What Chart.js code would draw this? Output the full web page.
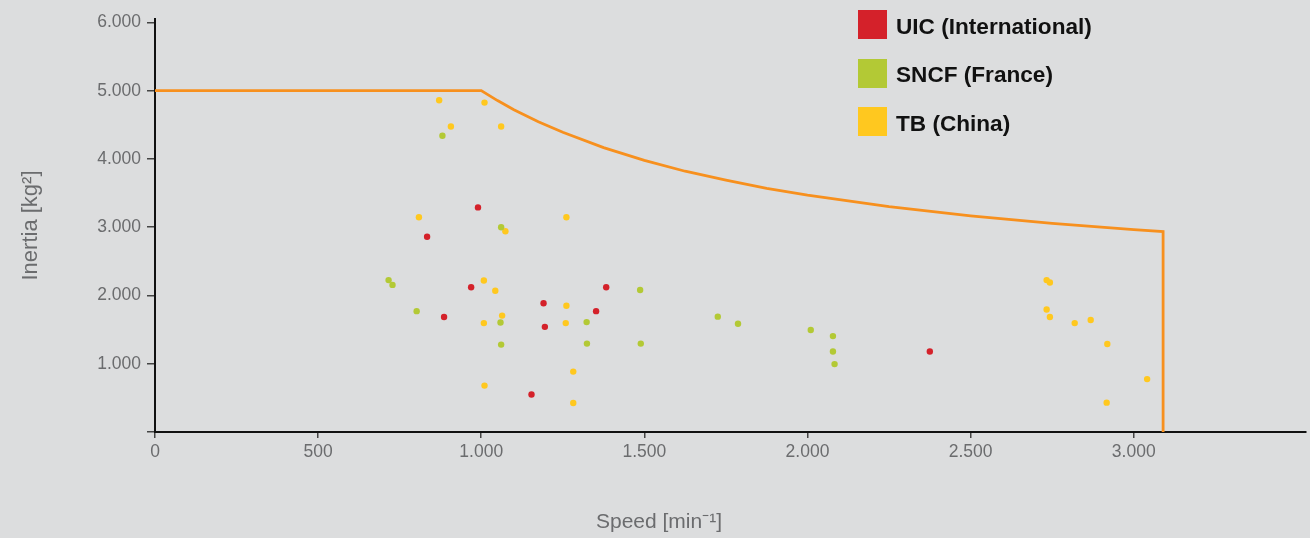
<!DOCTYPE html>
<html>
<head>
<meta charset="utf-8">
<script src="https://cdn.jsdelivr.net/npm/chart.js@4.4.1/dist/chart.umd.min.js"></script>
<style>
  html, body { margin: 0; padding: 0; background: #dcddde; }
  #wrap { position: relative; width: 1310px; height: 538px; }
  #legend {
    position: absolute; left: 858px; top: 10px;
    font-family: "Liberation Sans", Arial, sans-serif;
    font-weight: bold; font-size: 22.6px; color: #111;
  }
  .item { display: flex; align-items: center; height: 29px; margin-bottom: 19.7px; }
  .box { width: 29px; height: 29px; margin-right: 9px; }
  .label { position: relative; top: 2px; }
</style>
</head>
<body>
<div id="wrap">
  <canvas id="chart" width="1310" height="538"></canvas>
  <div id="legend"></div>
</div>
<script>
// Series names and colours
const seriesNames = ["UIC (International)", "SNCF (France)", "TB (China)"];
const seriesColors = ["#d4212a", "#b3c935", "#ffc81f"];

// UIC (International)
const uicSpeed   = [990, 834, 969, 1383, 886, 1191, 1352, 1195, 1154, 2375];
const uicInertia = [3290, 2860, 2120, 2120, 1685, 1885, 1770, 1540, 550, 1180];

// SNCF (France)
const sncfSpeed   = [881, 1061, 716, 728, 1487, 802, 1059, 1323, 1061, 1324, 1489, 1725, 1787, 2010, 2078, 2078, 2083];
const sncfInertia = [4340, 3000, 2225, 2155, 2080, 1770, 1605, 1610, 1280, 1295, 1295, 1690, 1585, 1495, 1405, 1180, 995];

// TB (China)
const tbSpeed   = [871, 1010, 907, 1061, 809, 1074, 1261, 1008, 1043, 1261, 1064, 1008, 1259, 1282, 1010, 1282,
                   2733, 2743, 2733, 2743, 2819, 2868, 2919, 3041, 2917];
const tbInertia = [4860, 4825, 4475, 4475, 3145, 2940, 3145, 2220, 2070, 1850, 1705, 1595, 1595, 885, 680, 425,
                   2225, 2190, 1795, 1685, 1595, 1640, 1290, 775, 430];

// limit curve
const limitSpeed   = [0, 1000, 1050, 1100, 1175, 1250, 1375, 1500, 1625, 1750, 1875, 2000, 2250, 2500, 2750, 3000, 3090, 3090];
const limitInertia = [5000, 5000, 4855, 4720, 4545, 4390, 4165, 3980, 3820, 3690, 3570, 3470, 3300, 3165, 3055, 2965, 2935, 0];

// axis ticks
const xTicks = [0, 500, 1000, 1500, 2000, 2500, 3000];
const yTicks = [0, 1000, 2000, 3000, 4000, 5000, 6000];

const toPoints = (xs, ys) => xs.map((x, i) => ({ x: x, y: ys[i] }));
const fmt = v => v.toLocaleString("de-DE");

const tickFont = { family: "'Liberation Sans', Arial, sans-serif", size: 17.5 };
const titleFont = { family: "'Liberation Sans', Arial, sans-serif", size: 22 };

// x axis title, drawn under the axis like in the original
const xTitle = {
  id: "xTitle",
  afterDraw(chart) {
    const ctx = chart.ctx;
    ctx.save();
    ctx.font = "21px 'Liberation Sans', Arial, sans-serif";
    ctx.fillStyle = "#6b6c6e";
    ctx.textAlign = "center";
    ctx.textBaseline = "alphabetic";
    ctx.fillText("Speed [min\u207B\u00B9]", 659, 528);
    ctx.restore();
  }
};

const scatterSet = (i, xs, ys) => ({
  label: seriesNames[i],
  data: toPoints(xs, ys),
  backgroundColor: seriesColors[i],
  borderColor: seriesColors[i],
  pointRadius: 3.2,
  pointBorderWidth: 0
});

new Chart(document.getElementById("chart"), {
  type: "scatter",
  data: {
    datasets: [
      scatterSet(0, uicSpeed, uicInertia),
      scatterSet(1, sncfSpeed, sncfInertia),
      scatterSet(2, tbSpeed, tbInertia),
      {
        label: "Limit",
        data: toPoints(limitSpeed, limitInertia),
        showLine: true,
        borderColor: "#f7901e",
        borderWidth: 2.8,
        pointRadius: 0,
        tension: 0,
        fill: false
      }
    ]
  },
  options: {
    responsive: false,
    animation: false,
    layout: { padding: { top: 19, right: 0, left: 0, bottom: 0 } },
    plugins: { legend: { display: false }, tooltip: { enabled: false } },
    scales: {
      x: {
        type: "linear",
        min: 0,
        max: 3528,
        afterBuildTicks: axis => { axis.ticks = xTicks.map(v => ({ value: v })); },
        afterFit: axis => { axis.height = 106; },
        ticks: { font: tickFont, color: "#6b6c6e", padding: 4, maxRotation: 0, callback: v => fmt(v) },
        grid: { drawOnChartArea: false, drawTicks: true, tickLength: 6, color: "#444", lineWidth: 1.5 },
        border: { display: true, color: "#111", width: 2 }
      },
      y: {
        type: "linear",
        min: 0,
        max: 6050,
        afterBuildTicks: axis => { axis.ticks = yTicks.map(v => ({ value: v })); },
        afterFit: axis => { axis.width = 155; },
        ticks: { font: tickFont, color: "#6b6c6e", padding: 6, callback: v => (v === 0 ? "" : fmt(v)) },
        grid: { drawOnChartArea: false, drawTicks: true, tickLength: 8, color: "#444", lineWidth: 1.5 },
        border: { display: true, color: "#111", width: 2 },
        title: { display: true, text: "Inertia [kg\u00B2]", font: titleFont, color: "#6b6c6e", padding: { top: 18, bottom: 0 } }
      }
    }
  },
  plugins: [xTitle]
});

// html legend for the three series
const legend = document.getElementById("legend");
seriesNames.forEach((name, i) => {
  const row = document.createElement("div");
  row.className = "item";
  row.innerHTML = '<div class="box" style="background:' + seriesColors[i] + '"></div><span class="label">' + name + "</span>";
  legend.appendChild(row);
});
</script>
</body>
</html>
